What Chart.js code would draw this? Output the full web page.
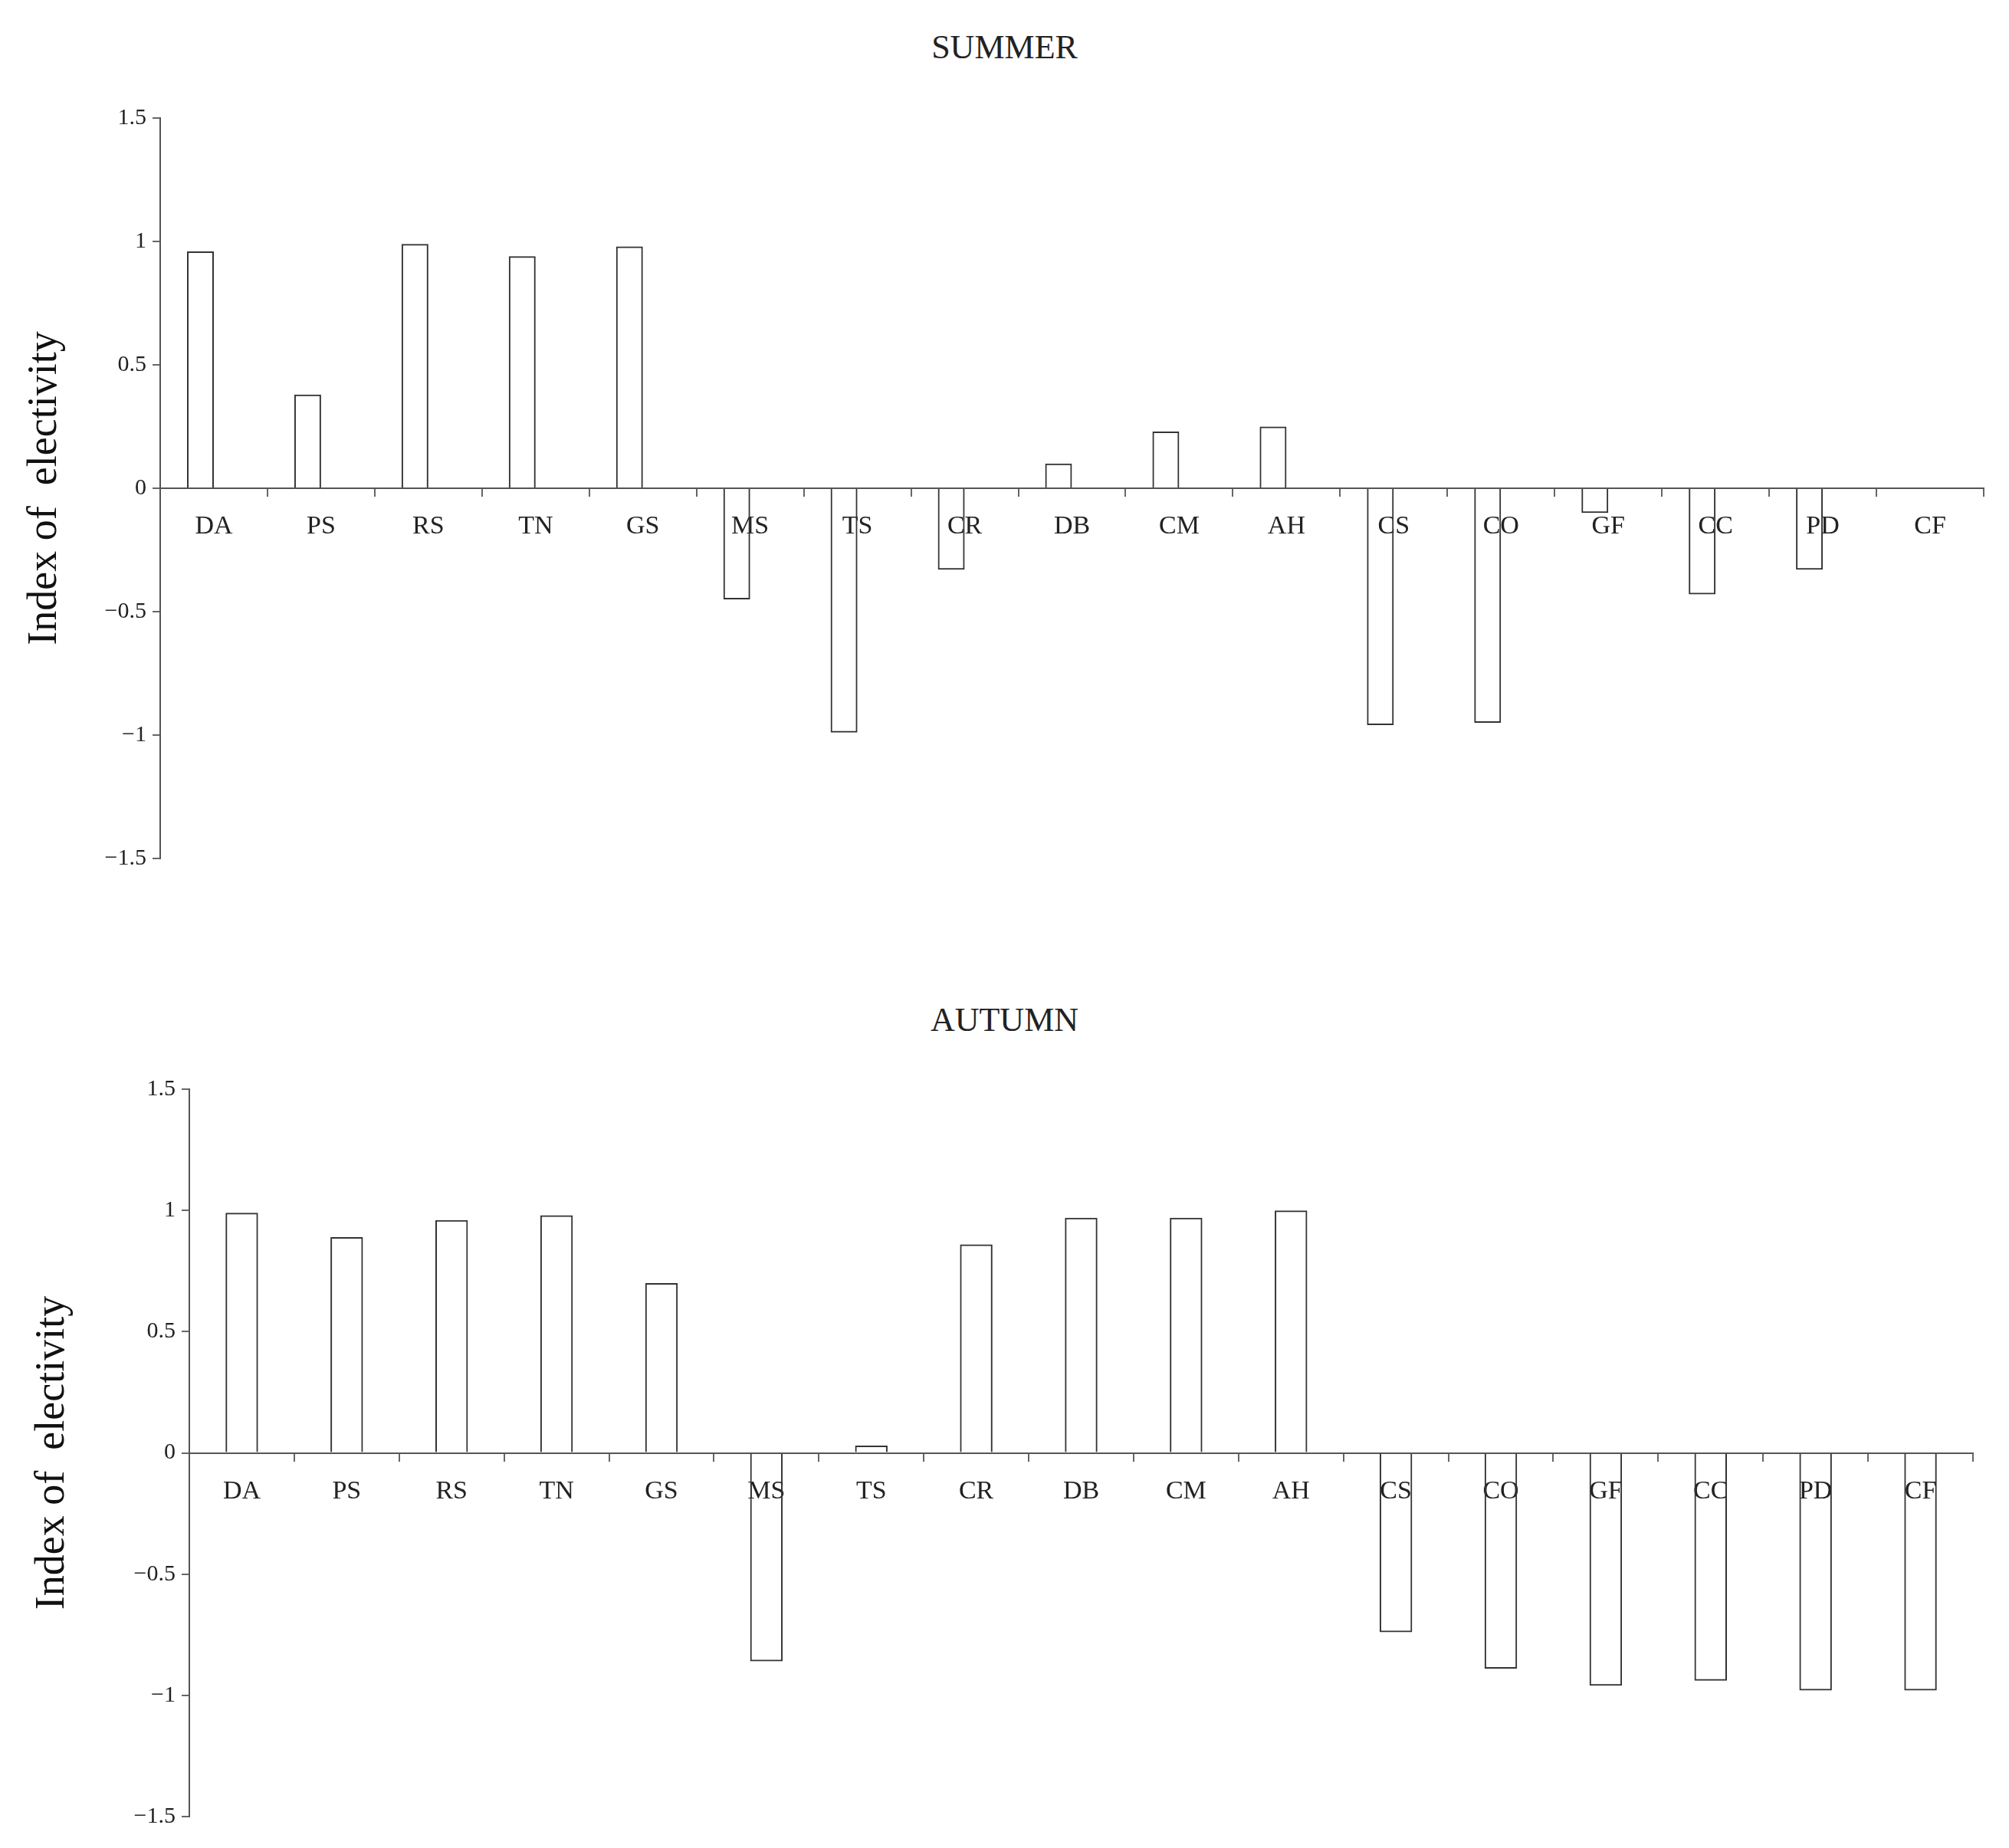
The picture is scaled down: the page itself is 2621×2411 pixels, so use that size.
<!DOCTYPE html>
<html><head>
<script src="https://cdn.jsdelivr.net/npm/chart.js@4"></script>
<style>
body{margin:0;background:#fff;width:2621px;height:2411px;position:relative;overflow:hidden}
.t{position:absolute;left:0;width:2621px;text-align:center;font:44px "Liberation Serif",serif;color:#222}
.w{position:absolute;left:0;width:2621px}
</style></head><body>
<div class="t" style="top:36px">SUMMER</div>
<div class="t" style="top:1305px">AUTUMN</div>
<div class="w" style="top:0;height:1160px"><canvas id="c1"></canvas></div>
<div class="w" style="top:1260px;height:1150px"><canvas id="c2"></canvas></div>
<script>
const categories = ['DA','PS','RS','TN','GS','MS','TS','CR','DB','CM','AH','CS','CO','GF','CC','PD','CF'];
const summerValues = [0.96,0.38,0.99,0.94,0.98,-0.45,-0.99,-0.33,0.1,0.23,0.25,-0.96,-0.95,-0.1,-0.43,-0.33,0];
const autumnValues = [0.99,0.89,0.96,0.98,0.70,-0.86,0.03,0.86,0.97,0.97,1.0,-0.74,-0.89,-0.96,-0.94,-0.98,-0.98];
const yTicks = [1.5,1,0.5,0,-0.5,-1,-1.5];

const serif = '"Liberation Serif", serif';

function makeChart(id, datasets, catPct, pad, yWidth) {
  new Chart(document.getElementById(id), {
    type: 'bar',
    data: { labels: categories, datasets },
    options: {
      responsive: true,
      maintainAspectRatio: false,
      animation: false,
      layout: { padding: pad },
      datasets: { bar: { categoryPercentage: catPct, barPercentage: 1 } },
      plugins: { legend: { display: false }, tooltip: { enabled: false } },
      scales: {
        x: {
          position: { y: 0 },
          grid: { offset: true, drawOnChartArea: false, tickLength: 10, color: '#666', lineWidth: 2 },
          border: { color: '#555', width: 2 },
          ticks: { color: '#222', font: { family: serif, size: 34 }, padding: 20 }
        },
        y: {
          min: -1.5, max: 1.5,
          afterFit: s => { s.width = yWidth; },
          afterBuildTicks: s => { s.ticks = yTicks.map(v => ({ value: v })); },
          grid: { drawOnChartArea: false, tickLength: 10, color: '#666', lineWidth: 2 },
          border: { color: '#555', width: 2 },
          ticks: {
            color: '#222', font: { family: serif, size: 30 }, padding: 8,
            callback: v => v < 0 ? '\u2212' + Math.abs(v) : String(v)
          },
          title: { display: true, text: 'Index of  electivity', color: '#111', font: { family: serif, size: 54 }, padding: 6 }
        }
      }
    }
  });
}

const barStyle = { backgroundColor: 'rgba(255,255,255,0)', borderColor: '#333', borderWidth: 2 };
makeChart('c1', [
  { data: summerValues, ...barStyle },
  { data: summerValues.map(() => null), ...barStyle }
], 0.5, { top: 154, bottom: 40, right: 33, left: 20 }, 189);

makeChart('c2', [
  { data: autumnValues, ...barStyle }
], 0.31, { top: 161, bottom: 40, right: 47, left: 30 }, 217);
</script>
</body></html>
